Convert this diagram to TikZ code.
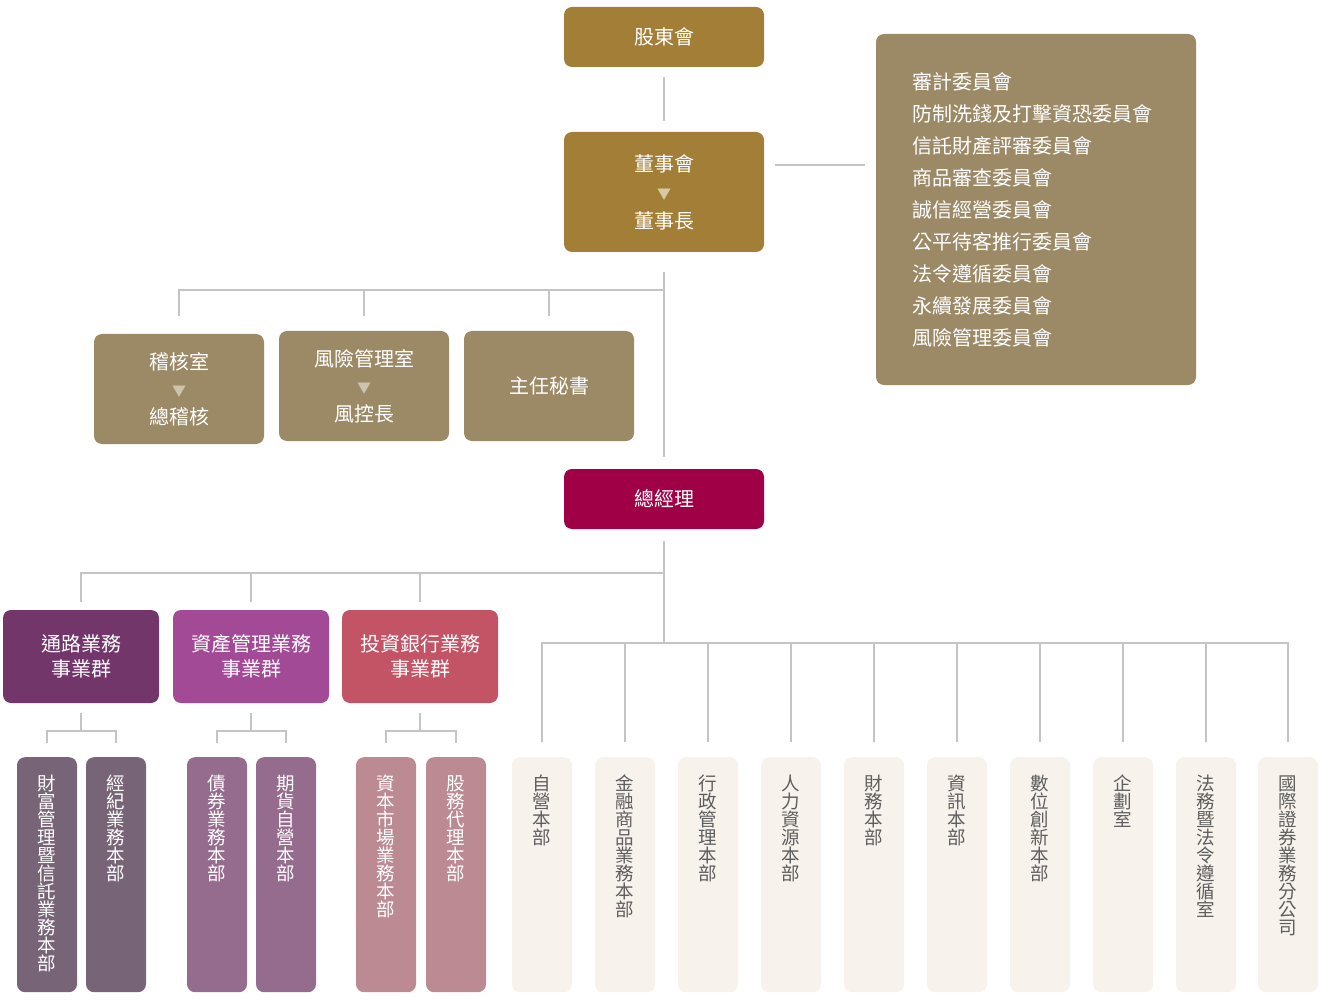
\documentclass[tikz,border=0pt]{standalone}
\usepackage{fontspec}
\setmainfont{Noto Sans CJK TC}
\definecolor{gold}{HTML}{A37E36}
\definecolor{khaki}{HTML}{9C8A67}
\definecolor{wine}{HTML}{A00045}
\definecolor{grpA}{HTML}{73366B}
\definecolor{grpB}{HTML}{A24A95}
\definecolor{grpC}{HTML}{C25465}
\definecolor{subA}{HTML}{786477}
\definecolor{subB}{HTML}{966C8E}
\definecolor{subC}{HTML}{BC8A93}
\definecolor{cream}{HTML}{F7F3EC}
\definecolor{linegray}{HTML}{C4C4C4}
\definecolor{deptText}{HTML}{5E5E5E}
\definecolor{triGold}{HTML}{D8C9A6}
\definecolor{triKhaki}{HTML}{CDC3AE}
\tikzstyle{box}=[rounded corners=8pt, inner sep=0pt, text=white, align=center]
\tikzstyle{top}=[box, fill=gold, minimum width=200pt, minimum height=60pt, font=\fontsize{20}{28.5}\selectfont]
\tikzstyle{staff}=[box, fill=khaki, minimum width=170pt, minimum height=110pt, font=\fontsize{20}{27.5}\selectfont]
\tikzstyle{comm}=[box, fill=khaki, align=left, text width=248pt, inner xsep=36pt, minimum height=351pt, font=\fontsize{20}{32}\selectfont]
\tikzstyle{grp}=[box, minimum width=156pt, minimum height=93pt, font=\fontsize{20}{25.5}\selectfont]
\tikzstyle{vert}=[box, anchor=north, text width=60pt, text height=33pt, text depth=202pt, font=\fontsize{18.5}{18}\selectfont]
\tikzstyle{dept}=[vert, fill=cream, text=deptText]
\tikzstyle{link}=[draw=linegray, line width=1.6pt]
\newcommand{\tri}[1]{{\color{#1}\fontsize{14}{14}\selectfont ▼}}
\lineskiplimit=-20pt

\begin{document}
\begin{tikzpicture}[x=1pt, y=-1pt]
	\useasboundingbox (0,0) rectangle (1320,1000);
	%% top
	\draw (664,37) node[top] (sh) {股東會};
	\draw (664,192) node[top, minimum height=120pt] (bd) {董事會\\\tri{triGold}\\董事長};
	\draw (1036,209.5) node[comm, minimum width=320pt] (cm) {審計委員會\\防制洗錢及打擊資恐委員會\\信託財產評審委員會\\商品審查委員會\\誠信經營委員會\\公平待客推行委員會\\法令遵循委員會\\永續發展委員會\\風險管理委員會};
	%% staff
	\draw (179,389) node[staff] (au) {稽核室\\\tri{triKhaki}\\總稽核};
	\draw (364,386) node[staff] (rf) {風險管理室\\\tri{triKhaki}\\風控長};
	\draw (549,386) node[staff] (se) {主任秘書};
	%%
	\draw (664,499) node[top, fill=wine] (gm) {總經理};
	%% groups
	\draw (81,656.5) node[grp, fill=grpA] (ga) {通路業務\\事業群};
	\draw (251,656.5) node[grp, fill=grpB] (gb) {資產管理業務\\事業群};
	\draw (420,656.5) node[grp, fill=grpC] (gc) {投資銀行業務\\事業群};
	%%
	\draw (47,757) node[vert, fill=subA] (sa1) {財\\富\\管\\理\\暨\\信\\託\\業\\務\\本\\部};
	\draw (116,757) node[vert, fill=subA] (sa2) {經\\紀\\業\\務\\本\\部};
	\draw (217,757) node[vert, fill=subB] (sb1) {債\\券\\業\\務\\本\\部};
	\draw (286,757) node[vert, fill=subB] (sb2) {期\\貨\\自\\營\\本\\部};
	\draw (386,757) node[vert, fill=subC] (sc1) {資\\本\\市\\場\\業\\務\\本\\部};
	\draw (456,757) node[vert, fill=subC] (sc2) {股\\務\\代\\理\\本\\部};
	%% departments
	\draw (542,757) node[dept] (d1) {自\\營\\本\\部};
	\draw (625,757) node[dept] (d2) {金\\融\\商\\品\\業\\務\\本\\部};
	\draw (708,757) node[dept] (d3) {行\\政\\管\\理\\本\\部};
	\draw (791,757) node[dept] (d4) {人\\力\\資\\源\\本\\部};
	\draw (874,757) node[dept] (d5) {財\\務\\本\\部};
	\draw (957,757) node[dept] (d6) {資\\訊\\本\\部};
	\draw (1040,757) node[dept] (d7) {數\\位\\創\\新\\本\\部};
	\draw (1123,757) node[dept] (d8) {企\\劃\\室};
	\draw (1206,757) node[dept] (d9) {法\\務\\暨\\法\\令\\遵\\循\\室};
	\draw (1288,757) node[dept] (d10) {國\\際\\證\\券\\業\\務\\分\\公\\司};
	%%%%%% connectors
	\draw[link, shorten <=10pt, shorten >=11pt] (sh) -- (bd);
	\coordinate (bdr) at ([yshift=27pt]bd.east);
	\draw[link, shorten <=11pt, shorten >=11pt] (bdr) -- (bdr -| cm.west);
	\draw[link] ([yshift=-20pt]bd.south) -- ([yshift=12pt]gm.north);
	\coordinate (j1) at (664,290);
	\draw[link] (j1) -| ([yshift=18pt]au.north);
	\draw[link] (j1) -| ([yshift=15pt]rf.north);
	\draw[link] (j1) -| ([yshift=15pt]se.north);
	%%
	\draw[link] ([yshift=-12pt]gm.south) -- (664,643);
	\coordinate (j2) at (664,573);
	\draw[link] (j2) -| ([yshift=8pt]ga.north);
	\draw[link] (j2) -| ([yshift=8pt]gb.north);
	\draw[link] (j2) -| ([yshift=8pt]gc.north);
	%%
	\coordinate (j3) at (664,643);
	\draw[link] (j3) -| ([yshift=15pt]d1.north);
	\draw[link] (j3 -| d2) -- ([yshift=15pt]d2.north);
	\draw[link] (j3 -| d3) -- ([yshift=15pt]d3.north);
	\draw[link] (j3 -| d4) -- ([yshift=15pt]d4.north);
	\draw[link] (j3 -| d5) -- ([yshift=15pt]d5.north);
	\draw[link] (j3 -| d6) -- ([yshift=15pt]d6.north);
	\draw[link] (j3 -| d7) -- ([yshift=15pt]d7.north);
	\draw[link] (j3 -| d8) -- ([yshift=15pt]d8.north);
	\draw[link] (j3 -| d9) -- ([yshift=15pt]d9.north);
	\draw[link] (j3) -| ([yshift=15pt]d10.north);
	%%
	\coordinate (ka) at ([yshift=-28pt]ga.south);
	\draw[link] ([yshift=-10pt]ga.south) -- (ka);
	\draw[link] (ka) -| ([yshift=14pt]sa1.north);
	\draw[link] (ka) -| ([yshift=14pt]sa2.north);
	\coordinate (kb) at ([yshift=-28pt]gb.south);
	\draw[link] ([yshift=-10pt]gb.south) -- (kb);
	\draw[link] (kb) -| ([yshift=14pt]sb1.north);
	\draw[link] (kb) -| ([yshift=14pt]sb2.north);
	\coordinate (kc) at ([yshift=-28pt]gc.south);
	\draw[link] ([yshift=-10pt]gc.south) -- (kc);
	\draw[link] (kc) -| ([yshift=14pt]sc1.north);
	\draw[link] (kc) -| ([yshift=14pt]sc2.north);
\end{tikzpicture}
\end{document}
